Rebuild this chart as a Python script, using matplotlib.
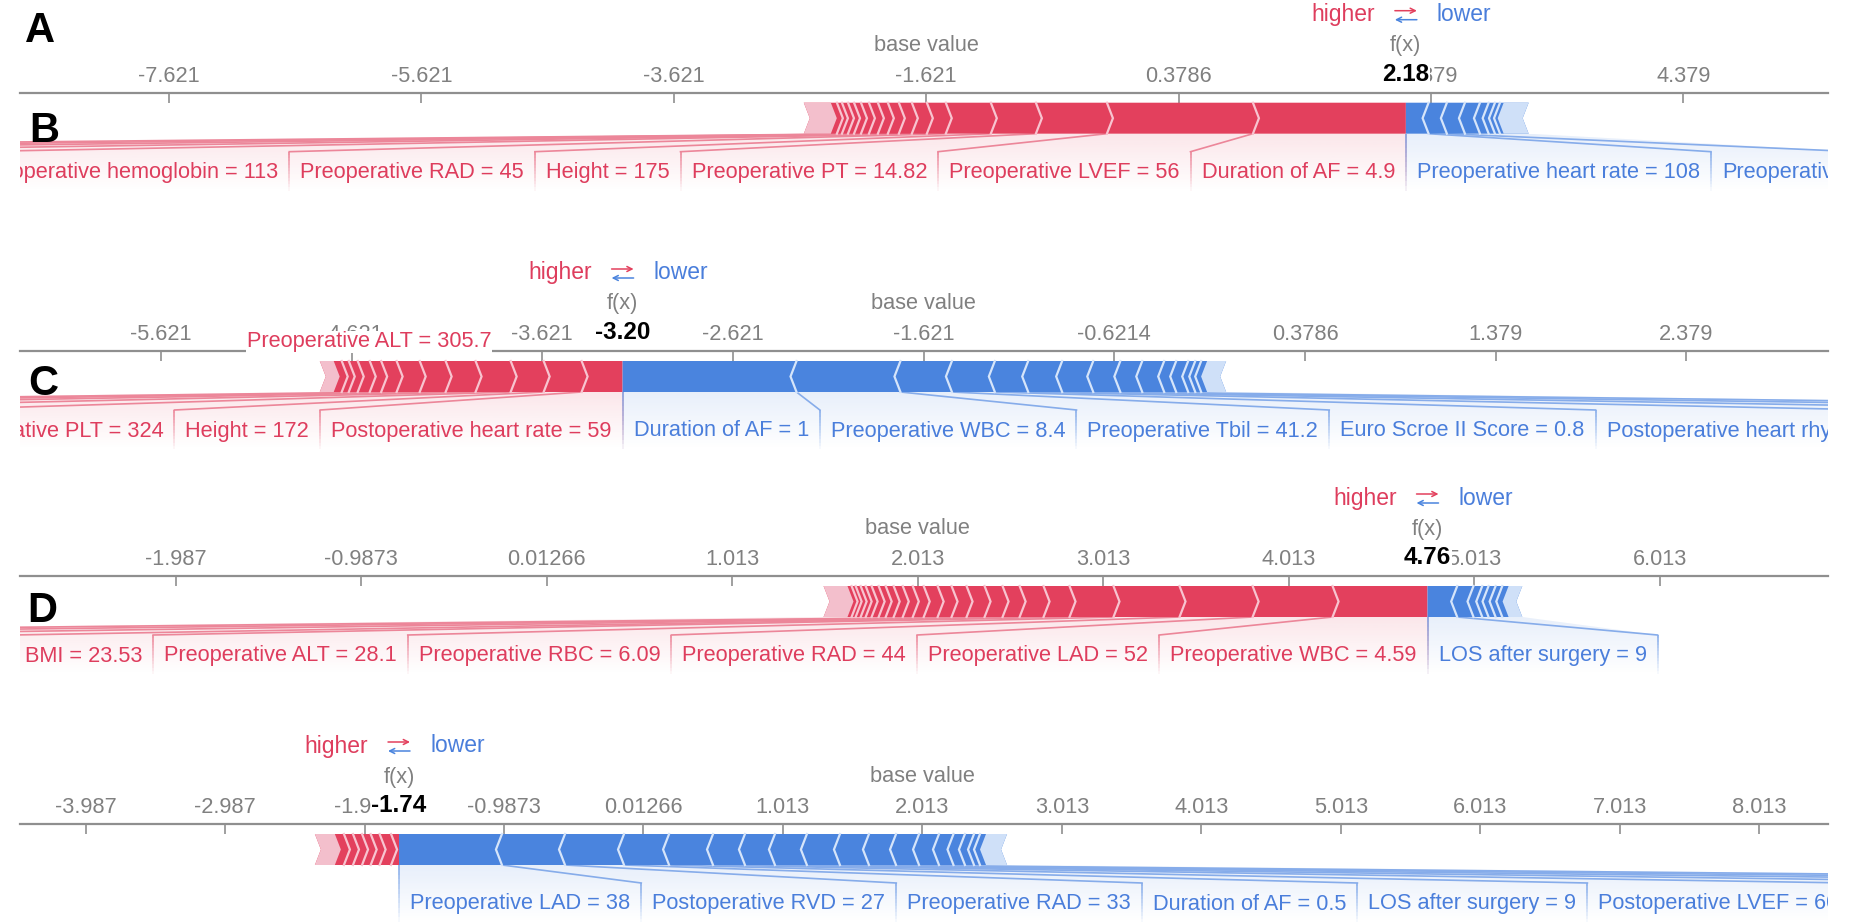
import numpy as np
import matplotlib
matplotlib.use("Agg")
import matplotlib.pyplot as plt
from matplotlib.patches import Polygon
from matplotlib.collections import LineCollection
from matplotlib.colors import to_rgb

plt.rcParams['font.family'] = ['Liberation Sans', 'DejaVu Sans']

# ---------------- data ----------------
# panel B (first force plot)
b_base = -1.6214
b_fx = 2.18
b_red_labels = ["Duration of AF = 4.9", "Preoperative LVEF = 56", "Preoperative PT = 14.82",
                "Height = 175", "Preoperative RAD = 45", "Preoperative hemoglobin = 113"]
b_red_values = [1.212, 1.157, 0.563, 0.357, 0.357, 0.150, 0.119, 0.103, 0.087, 0.079,
                0.071, 0.063, 0.055, 0.048, 0.048, 0.040, 0.048]
b_red_rest = 0.214
b_blue_labels = ["Preoperative heart rate = 108", "Preoperative"]
b_blue_values = [0.180, 0.145, 0.143, 0.119, 0.069, 0.050, 0.040, 0.029]
b_blue_rest = 0.198

# panel C
c_base = -1.6214
c_fx = -3.20
c_red_labels = ["Postoperative heart rate = 59", "Height = 172", "Preoperative PLT = 324"]
c_red_values = [0.215, 0.199, 0.173, 0.184, 0.157, 0.136, 0.121, 0.081, 0.060, 0.063,
                0.047, 0.037, 0.042]
c_red_rest = 0.073
c_blue_labels = ["Duration of AF = 1", "Preoperative WBC = 8.4", "Preoperative Tbil = 41.2",
                 "Euro Scroe II Score = 0.8", "Postoperative heart rhythm"]
c_blue_values = [0.912, 0.545, 0.270, 0.225, 0.175, 0.178, 0.163, 0.142, 0.115, 0.115,
                 0.063, 0.063, 0.037, 0.031, 0.031]
c_blue_rest = 0.100
c_extra_label = "Preoperative ALT = 305.7"
c_extra_x = -4.53

# panel D
d_base = 2.01266
d_fx = 4.76
d_red_labels = ["Preoperative WBC = 4.59", "Preoperative LAD = 52", "Preoperative RAD = 44",
                "Preoperative RBC = 6.09", "Preoperative ALT = 28.1", "BMI = 23.53"]
d_red_values = [0.512, 0.431, 0.394, 0.356, 0.237, 0.140, 0.129, 0.092, 0.097, 0.097,
                0.081, 0.075, 0.075, 0.059, 0.054, 0.049, 0.043, 0.038, 0.038, 0.032,
                0.027, 0.027, 0.022, 0.022]
d_red_rest = 0.129
d_blue_labels = ["LOS after surgery = 9"]
d_blue_values = [0.160, 0.088, 0.047, 0.034, 0.038, 0.036, 0.034]
d_blue_rest = 0.074

# panel E (no letter in the original)
e_base = 2.01266
e_fx = -1.74
e_red_labels = []
e_red_values = [0.057, 0.082, 0.064, 0.062, 0.065, 0.065, 0.065]
e_red_rest = 0.143
e_blue_labels = ["Preoperative LAD = 38", "Postoperative RVD = 27", "Preoperative RAD = 33",
                 "Duration of AF = 0.5", "LOS after surgery = 9", "Postoperative LVEF = 60"]
e_blue_values = [0.738, 0.452, 0.423, 0.323, 0.315, 0.229, 0.215, 0.229, 0.237, 0.208,
                 0.194, 0.165, 0.143, 0.104, 0.082, 0.065, 0.043, 0.043]
e_blue_rest = 0.151

panel_letters = ["A", "B", "C", "D"]

# ---------------- style / layout ----------------
W, H = 1850, 923
AX_L, AX_R = 20, 1828
AX_W = AX_R - AX_L
BAND = 99
BAR_TOP, BAR_BOT = 10, 41
LAB_TOP, TXT_Y, FADE_BOT = 59, 80, 98
CHEV = 6
PAD = 11
OFF_W = 240
FS = 15.7

RED = '#E3405D'
RED_LIGHT = '#F3BFCC'
RED_CHEV = '#F8C4D0'
RED_TXT = '#DE3D5D'
RED_LINE = '#EC8699'
BLUE = '#4A84DE'
BLUE_LIGHT = '#CFE0F8'
BLUE_CHEV = '#D6E5FA'
BLUE_TXT = '#4A7EDB'
BLUE_LINE = '#86ACEA'
AXIS_COL = '#8f8f8f'
GRAY_TXT = '#808080'


def fade_vline(ax, x, y0, y1, col, n=12):
    ys = np.linspace(y0, y1, n + 1)
    segs = [[(x, ys[i]), (x, ys[i + 1])] for i in range(n)]
    rgb = to_rgb(col)
    cols = [(*rgb, 1 - i / n) for i in range(n)]
    ax.add_collection(LineCollection(segs, colors=cols, linewidths=1.2, zorder=3))


def draw_side(ax, fx, labels, values, rest, n_off, sign, k, renderer, red):
    bar_c, light_c, chev_c = (RED, RED_LIGHT, RED_CHEV) if red else (BLUE, BLUE_LIGHT, BLUE_CHEV)
    txt_c, line_c = (RED_TXT, RED_LINE) if red else (BLUE_TXT, BLUE_LINE)
    mid = (BAR_TOP + BAR_BOT) / 2
    tip = -sign * CHEV * k

    edges = fx + sign * np.concatenate([[0.0], np.cumsum(values)])
    tail0 = edges[-1]
    end = tail0 + sign * rest

    ax.add_patch(Polygon([(fx, BAR_TOP), (fx, BAR_BOT), (end, BAR_BOT), (end + tip, mid),
                          (end, BAR_TOP)], closed=True, fc=bar_c, ec='none', zorder=4))
    ax.add_patch(Polygon([(tail0, BAR_TOP), (tail0 + tip, mid), (tail0, BAR_BOT), (end, BAR_BOT),
                          (end + tip, mid), (end, BAR_TOP)], closed=True, fc=light_c, ec='none', zorder=4))
    for x in edges[1:-1]:
        ax.plot([x, x + tip, x], [BAR_TOP, mid, BAR_BOT], color=chev_c, lw=1.6, zorder=5,
                solid_joinstyle='miter')

    # labels and connectors
    cur = fx
    for i, lab in enumerate(labels):
        t = ax.text(cur, TXT_Y, lab, color=txt_c, fontsize=FS, ha='center', va='center',
                    clip_on=True, zorder=6)
        w = (t.get_window_extent(renderer).width + 2 * PAD) * k
        far = cur + sign * w
        t.set_x((cur + far) / 2)
        ax.plot([edges[i + 1], far], [BAR_BOT, LAB_TOP], color=line_c, lw=1.2, zorder=3)
        fade_vline(ax, far, LAB_TOP, FADE_BOT, line_c)
        cur = far
    for j in range(n_off):
        far = cur + sign * OFF_W * k
        ax.plot([edges[len(labels) + j + 1], far], [BAR_BOT, LAB_TOP], color=line_c, lw=1.2, zorder=3)
        cur = far

    if labels or n_off:
        poly = Polygon([(fx, BAR_BOT), (end, BAR_BOT), (cur, LAB_TOP), (cur, FADE_BOT),
                        (fx, FADE_BOT)], closed=True, fc='none', ec='none')
        ax.add_patch(poly)
        grad = np.zeros((64, 2, 4))
        grad[..., :3] = to_rgb(bar_c)
        grad[..., 3] = np.linspace(0.13, 0.0, 64)[:, None]
        xs = sorted([fx, cur])
        im = ax.imshow(grad, extent=(xs[0], xs[1], FADE_BOT, BAR_BOT), origin='upper',
                       aspect='auto', interpolation='bilinear', zorder=1)
        im.set_clip_path(poly)
        fade_vline(ax, fx, BAR_BOT, FADE_BOT, line_c)
    return bool(labels)


def force_panel(fig, renderer, axis_y, xlim, base, step, fx, red, blue, red_off, blue_off):
    ax = fig.add_axes([AX_L / W, 1 - (axis_y + BAND) / H, AX_W / W, BAND / H])
    ax.set_xlim(xlim)
    ax.set_ylim(BAND, 0)
    ax.patch.set_alpha(0)
    k = (xlim[1] - xlim[0]) / AX_W

    ticks = base + step * np.arange(-12, 13)
    ticks = ticks[(ticks > xlim[0]) & (ticks < xlim[1])]
    ax.set_xticks(ticks, [f'{t:.4g}' for t in ticks])
    ax.xaxis.set_ticks_position('top')
    ax.tick_params(axis='x', direction='in', length=7, width=1.2, color=AXIS_COL,
                   labelcolor=GRAY_TXT, labelsize=FS, pad=4)
    ax.set_yticks([])
    for s in ['left', 'right', 'bottom']:
        ax.spines[s].set_visible(False)
    ax.spines['top'].set_color(AXIS_COL)
    ax.spines['top'].set_linewidth(1.6)

    draw_side(ax, fx, *red, red_off, -1, k, renderer, True)
    draw_side(ax, fx, *blue, blue_off, 1, k, renderer, False)

    ax.text(fx, -18, f'{fx:.2f}', fontsize=17.5, fontweight='bold', color='black', ha='center',
            va='center', clip_on=False, zorder=8, bbox=dict(fc='white', ec='none', pad=0.5))
    ax.text(base, -47, 'base value', fontsize=FS, color=GRAY_TXT, ha='center', va='center', clip_on=False)
    ax.text(fx, -47, 'f(x)', fontsize=FS, color=GRAY_TXT, ha='center', va='center', clip_on=False)
    ax.text(fx - 31 * k, -78, 'higher', fontsize=16.5, color=RED_TXT, ha='right', va='center', clip_on=False)
    ax.text(fx + 31 * k, -78, 'lower', fontsize=16.5, color=BLUE_TXT, ha='left', va='center', clip_on=False)
    ax.annotate('', xy=(fx + 11 * k, -82), xytext=(fx - 11 * k, -82), annotation_clip=False,
                arrowprops=dict(arrowstyle='->', color=RED, lw=1.1, shrinkA=0, shrinkB=0, mutation_scale=9))
    ax.annotate('', xy=(fx - 11 * k, -73), xytext=(fx + 11 * k, -73), annotation_clip=False,
                arrowprops=dict(arrowstyle='->', color=BLUE, lw=1.1, shrinkA=0, shrinkB=0, mutation_scale=9))

    ax.set_xlim(xlim)
    ax.set_ylim(BAND, 0)
    return ax


fig = plt.figure(figsize=(W / 100, H / 100), dpi=100)
renderer = fig.canvas.get_renderer()

force_panel(fig, renderer, 92.7, (-8.802, 5.525), b_base, 2, b_fx,
            (b_red_labels, b_red_values, b_red_rest), (b_blue_labels, b_blue_values, b_blue_rest), 4, 0)
ax_c = force_panel(fig, renderer, 351, (-6.360, 3.121), c_base, 1, c_fx,
                   (c_red_labels, c_red_values, c_red_rest), (c_blue_labels, c_blue_values, c_blue_rest), 4, 3)
ax_c.text(c_extra_x, -9, c_extra_label, fontsize=FS, color=RED_TXT, ha='center', va='center',
          clip_on=False, zorder=7, bbox=dict(fc='white', ec='none', pad=0.3))
force_panel(fig, renderer, 576, (-2.828, 6.919), d_base, 1, d_fx,
            (d_red_labels, d_red_values, d_red_rest), (d_blue_labels, d_blue_values, d_blue_rest), 3, 0)
force_panel(fig, renderer, 824, (-4.457, 8.504), e_base, 1, e_fx,
            (e_red_labels, e_red_values, e_red_rest), (e_blue_labels, e_blue_values, e_blue_rest), 0, 4)

for lab, (px, py) in zip(panel_letters, [(25, 42), (29, 142), (28, 395), (27, 622)]):
    fig.text(px / W, 1 - py / H, lab, fontsize=30, fontweight='bold', ha='left', va='baseline')

fig.savefig('out.png', dpi=100, facecolor='white')
